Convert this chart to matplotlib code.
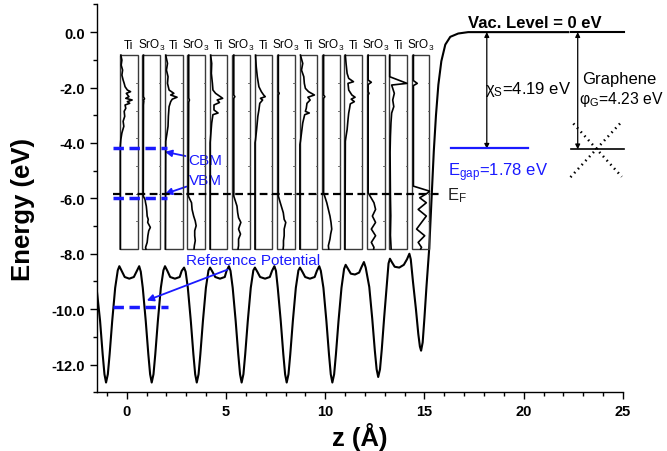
import matplotlib
matplotlib.use("Agg")
import matplotlib.pyplot as plt
from matplotlib.patches import Rectangle
from matplotlib.ticker import MultipleLocator

plt.rcParams['font.family'] = ['Liberation Sans', 'DejaVu Sans']
plt.rcParams['mathtext.fontset'] = 'custom'
plt.rcParams['mathtext.rm'] = 'Liberation Sans'
plt.rcParams['mathtext.it'] = 'Liberation Sans:italic'
plt.rcParams['mathtext.bf'] = 'Liberation Sans:bold'
plt.rcParams['axes.unicode_minus'] = False

# ---------------- data ----------------
# planar-averaged electrostatic potential (z in Angstrom, energy in eV)
pot_z = [-1.50, -1.34, -1.21, -1.12, -1.04, -0.95, -0.86, -0.73, -0.58, -0.45, -0.37, -0.25, -0.10, 0.13, 0.36, 0.51, 0.63, 0.71,
         0.81, 0.96, 1.09, 1.18, 1.26, 1.35, 1.44, 1.57, 1.72, 1.85, 1.93, 2.05, 2.19, 2.43, 2.67, 2.77, 2.89, 2.97,
         3.08, 3.23, 3.36, 3.45, 3.53, 3.62, 3.71, 3.84, 3.99, 4.12, 4.20, 4.32, 4.46, 4.70, 4.94, 5.03, 5.15, 5.23,
         5.34, 5.49, 5.62, 5.71, 5.79, 5.88, 5.97, 6.10, 6.25, 6.38, 6.46, 6.58, 6.72, 6.97, 7.21, 7.32, 7.44, 7.52,
         7.61, 7.76, 7.89, 7.98, 8.06, 8.15, 8.24, 8.37, 8.52, 8.65, 8.73, 8.85, 8.99, 9.23, 9.47, 9.58, 9.70, 9.78,
         9.91, 10.06, 10.19, 10.28, 10.36, 10.45, 10.54, 10.67, 10.82, 10.95, 11.03, 11.15, 11.29, 11.50, 11.71, 11.83, 11.95, 12.04,
         12.22, 12.37, 12.50, 12.59, 12.67, 12.76, 12.85, 12.97, 13.11, 13.19, 13.26, 13.37, 13.50, 13.73, 13.96, 14.12, 14.24, 14.31,
         14.42, 14.57, 14.69, 14.77, 14.83, 14.91, 15.00, 15.10, 15.24, 15.37, 15.47, 15.58, 15.70, 15.85, 16.05, 16.30, 16.70, 17.20, 22.25]
pot_e = [-9.35, -10.43, -11.63, -12.35, -12.65, -12.35, -11.63, -10.43, -9.23, -8.60, -8.45, -8.62, -8.84, -8.90, -8.84, -8.62, -8.45, -8.65,
         -9.23, -10.43, -11.63, -12.35, -12.65, -12.35, -11.63, -10.43, -9.23, -8.60, -8.45, -8.62, -8.84, -8.90, -8.84, -8.62, -8.50, -8.65,
         -9.23, -10.43, -11.63, -12.35, -12.65, -12.35, -11.63, -10.43, -9.23, -8.60, -8.50, -8.65, -8.84, -8.90, -8.84, -8.62, -8.45, -8.62,
         -9.23, -10.43, -11.63, -12.35, -12.65, -12.35, -11.63, -10.43, -9.23, -8.60, -8.50, -8.65, -8.84, -8.90, -8.84, -8.62, -8.45, -8.62,
         -9.23, -10.43, -11.63, -12.35, -12.65, -12.35, -11.63, -10.43, -9.23, -8.60, -8.50, -8.65, -8.84, -8.90, -8.84, -8.62, -8.45, -8.62,
         -9.23, -10.43, -11.63, -12.35, -12.65, -12.35, -11.63, -10.43, -9.23, -8.55, -8.40, -8.55, -8.72, -8.75, -8.68, -8.48, -8.30, -8.50,
         -9.20, -10.35, -11.50, -12.17, -12.45, -12.17, -11.45, -10.30, -9.05, -8.35, -8.18, -8.32, -8.47, -8.50, -8.40, -8.20, -8.00, -8.20,
         -9.00, -10.00, -10.90, -11.35, -11.50, -11.20, -10.30, -9.20, -7.80, -5.82, -4.30, -3.00, -1.90, -1.05, -0.45, -0.17, -0.05, 0.00, 0.00]

# layer-resolved PDOS panels: energy relative to E_F (eV), DOS as fraction of panel width
E_F = -5.83
panel_labels = ['Ti', 'SrO$_3$'] * 7
pdos_eps = [
    [5.0, 4.82, 4.64, 4.46, 4.28, 4.10, 3.98, 3.86, 3.74, 3.68, 3.62, 3.50, 3.44, 3.38, 3.32, 3.26, 3.20, 3.08, 2.97, 2.79, 2.61, 2.43, 2.19, 1.95, 1.71, -2.0],
    [5.0, 3.5, 3.42, 3.38, 3.34, 3.2, -0.09, -0.21, -0.33, -0.45, -0.63, -0.81, -0.93, -1.04, -1.16, -1.22, -1.34, -1.52, -1.76, -1.94, -2.0],
    [5.0, 4.7, 4.46, 4.22, 3.98, 3.74, 3.62, 3.56, 3.48, 3.41, 3.32, 3.14, 2.79, 2.43, 2.13, 1.89, -2.0],
    [5.0, 3.45, 3.38, 3.3, -0.09, -0.33, -0.57, -0.81, -0.99, -1.16, -1.34, -1.52, -1.70, -1.88, -2.0],
    [5.0, 4.70, 4.34, 3.98, 3.74, 3.62, 3.50, 3.44, 3.38, 3.29, 3.20, 3.02, 2.91, 2.85, 2.55, 2.07, 1.83, -2.0],
    [5.0, 3.56, 3.50, 3.44, -0.09, -0.45, -0.69, -0.87, -1.04, -1.16, -1.28, -1.46, -1.64, -1.88, -2.0],
    [5.0, 4.58, 4.22, 3.86, 3.68, 3.56, 3.50, 3.44, 3.38, 3.26, 3.02, 2.79, 2.31, 1.95, 1.83, -2.0],
    [5.0, 3.68, 3.62, 3.56, -0.09, -0.33, -0.69, -0.93, -1.04, -1.28, -1.52, -1.70, -1.88, -2.0],
    [5.0, 4.70, 4.46, 4.22, 3.98, 3.80, 3.68, 3.56, 3.48, 3.38, 3.26, 3.08, 2.97, 2.91, 2.85, 2.55, 2.19, 1.89, 1.77, -2.0],
    [5.0, 3.56, 3.50, 3.44, 0.03, -0.33, -0.57, -0.81, -1.04, -1.28, -1.46, -1.64, -1.88, -2.0],
    [5.0, 4.70, 4.34, 4.16, 4.04, 3.98, 3.74, 3.56, 3.48, 3.41, 3.32, 3.24, 3.08, 2.91, 2.67, 2.31, 2.07, 1.89, -2.0],
    [5.0, 4.10, 4.02, 3.94, 3.68, 3.62, 3.56, 0.03, -0.09, -0.33, -0.57, -0.81, -1.04, -1.28, -1.52, -1.76, -1.94, -2.0],
    [5.0, 4.22, 3.98, 3.92, 3.80, 3.62, 3.38, 3.14, 2.91, 2.55, 2.07, 1.5, -0.1, -0.8, -1.5, -2.0],
    [5.0, 4.08, 3.98, 3.90, 0.27, 0.09, 0.03, -0.15, -0.33, -0.57, -0.81, -1.04, -1.28, -1.52, -1.76, -1.94, -2.0],
]
pdos_val = [
    [0.05, 0.11, 0.07, 0.15, 0.11, 0.18, 0.24, 0.29, 0.42, 0.60, 0.36, 0.51, 0.33, 0.69, 0.42, 0.55, 0.29, 0.33, 0.24, 0.27, 0.18, 0.22, 0.11, 0.05, 0.02, 0.02],
    [0.06, 0.06, 0.12, 0.06, 0.08, 0.06, 0.05, 0.15, 0.18, 0.22, 0.25, 0.27, 0.33, 0.30, 0.40, 0.45, 0.36, 0.31, 0.27, 0.18, 0.20],
    [0.05, 0.15, 0.09, 0.18, 0.15, 0.24, 0.51, 0.33, 0.69, 0.42, 0.33, 0.24, 0.20, 0.18, 0.11, 0.05, 0.03],
    [0.08, 0.08, 0.12, 0.08, 0.06, 0.24, 0.27, 0.36, 0.45, 0.50, 0.42, 0.42, 0.45, 0.40, 0.38],
    [0.05, 0.11, 0.09, 0.15, 0.18, 0.33, 0.60, 0.73, 0.42, 0.55, 0.24, 0.24, 0.47, 0.18, 0.11, 0.05, 0.02, 0.02],
    [0.09, 0.09, 0.15, 0.09, 0.09, 0.27, 0.31, 0.36, 0.49, 0.42, 0.36, 0.47, 0.36, 0.36, 0.33],
    [0.05, 0.09, 0.15, 0.24, 0.38, 0.51, 0.60, 0.33, 0.45, 0.29, 0.24, 0.18, 0.11, 0.05, 0.02, 0.02],
    [0.07, 0.07, 0.12, 0.07, 0.07, 0.18, 0.35, 0.40, 0.49, 0.40, 0.40, 0.36, 0.36, 0.34],
    [0.05, 0.18, 0.11, 0.24, 0.27, 0.33, 0.51, 0.84, 0.47, 0.60, 0.42, 0.38, 0.33, 0.55, 0.29, 0.18, 0.11, 0.05, 0.02, 0.02],
    [0.09, 0.09, 0.16, 0.09, 0.09, 0.27, 0.36, 0.45, 0.51, 0.55, 0.49, 0.45, 0.36, 0.38],
    [0.05, 0.09, 0.15, 0.24, 0.51, 0.20, 0.24, 0.42, 0.60, 0.38, 0.56, 0.33, 0.29, 0.24, 0.20, 0.15, 0.09, 0.05, 0.03],
    [0.07, 0.07, 0.25, 0.07, 0.07, 0.12, 0.07, 0.07, 0.18, 0.40, 0.49, 0.31, 0.49, 0.25, 0.49, 0.25, 0.40, 0.38],
    [0.02, 0.02, 1.0, 0.13, 0.19, 0.28, 0.19, 0.25, 0.13, 0.09, 0.06, 0.04, 0.06, 0.08, 0.06, 0.10],
    [0.09, 0.09, 0.31, 0.09, 0.09, 1.0, 0.91, 0.45, 0.82, 0.36, 0.82, 0.55, 0.27, 0.73, 0.36, 0.55, 0.50],
]

# band-alignment values (eV)
CBM = -4.18
VBM = -6.00
REF_POT = -9.91
CHI_S = 4.19
PHI_G = 4.23
E_GAP = 1.78

ytick_vals = [0, -2, -4, -6, -8, -10, -12]
ytick_labels = ['0.0', '-2.0', '-4.0', '-6.0', '-8.0', '-10.0', '-12.0']
xtick_vals = [0, 5, 10, 15, 20, 25]
xtick_labels = ['0', '5', '10', '15', '20', '25']

# ---------------- figure ----------------
fig = plt.figure(figsize=(6.67, 4.52), dpi=100)
ax = fig.add_axes([0.1453, 0.130, 0.7887, 0.858])
ax.set_xlim(-1.5, 25)
ax.set_ylim(-13, 1)

for s in ['top', 'right']:
    ax.spines[s].set_visible(False)
for s in ['left', 'bottom']:
    ax.spines[s].set_linewidth(1.0)

ax.set_yticks(ytick_vals)
ax.set_yticklabels(ytick_labels, fontweight='bold', fontsize=10.5)
ax.set_xticks(xtick_vals)
ax.set_xticklabels(xtick_labels, fontweight='bold', fontsize=10.5)
ax.xaxis.set_minor_locator(MultipleLocator(1))
ax.yaxis.set_minor_locator(MultipleLocator(1))
ax.tick_params(which='major', direction='out', length=5, width=1)
ax.tick_params(which='minor', direction='out', length=3, width=1)

ax.set_ylabel('Energy (eV)', fontsize=18.5, fontweight='bold', va='center')
ax.yaxis.set_label_coords(-0.140, 0.475)
ax.set_xlabel('z (Å)', fontsize=18.5, fontweight='bold', va='center')
ax.xaxis.set_label_coords(0.5, -0.113)

# potential
ax.plot(pot_z, pot_e, color='black', lw=1.5, zorder=3)

# PDOS panels
p_left0, p_pitch, p_w = -0.34, 1.131, 0.89
e_lo, e_hi = E_F - 2.0, E_F + 5.0
for i in range(14):
    zl = p_left0 + i * p_pitch
    ax.add_patch(Rectangle((zl, e_lo), p_w, e_hi - e_lo, fill=False,
                           edgecolor='#3a3a3a', lw=1.0, zorder=4))
    for k in range(-1, 5):
        ax.plot([zl + p_w - 0.07, zl + p_w], [E_F + k, E_F + k], color='#555555', lw=0.6, zorder=4)
    xs = [zl + min(v, 1.0) * p_w for v in pdos_val[i]]
    ys = [E_F + e for e in pdos_eps[i]]
    ax.plot(xs, ys, color='black', lw=1.2, zorder=5)
    ax.text(zl + p_w / 2, -0.45, panel_labels[i], ha='center', va='center', fontsize=8.5)

blue = '#1a1aff'
# band edges (blue dashes)
ax.plot([-0.68, 2.05], [CBM, CBM], color=blue, lw=2.5, ls=(0, (3, 1.6)), zorder=6)
ax.plot([-0.68, 2.05], [VBM, VBM], color=blue, lw=2.5, ls=(0, (3, 1.6)), zorder=6)
ax.plot([-0.68, 2.10], [REF_POT, REF_POT], color=blue, lw=2.5, ls=(0, (3, 1.6)), zorder=6)
# Fermi level
ax.plot([-0.68, 15.95], [E_F, E_F], color='black', lw=1.6, ls=(0, (3.5, 2)), zorder=6)
ax.text(16.15, E_F - 0.05, 'E$_\\mathrm{F}$', fontsize=12, ha='left', va='center', color='#222222')

ax.annotate('CBM', xy=(1.93, -4.32), xytext=(3.1, -4.62), color=blue, fontsize=11,
            ha='left', va='center',
            arrowprops=dict(arrowstyle='-|>', color=blue, lw=1.3, mutation_scale=10, shrinkA=0, shrinkB=0))
ax.annotate('VBM', xy=(1.93, -5.84), xytext=(3.15, -5.34), color=blue, fontsize=11,
            ha='left', va='center',
            arrowprops=dict(arrowstyle='-|>', color=blue, lw=1.3, mutation_scale=10, shrinkA=0, shrinkB=0))
ax.annotate('Reference Potential', xy=(1.01, -9.69), xytext=(2.99, -8.22), color=blue, fontsize=11,
            ha='left', va='center',
            arrowprops=dict(arrowstyle='-|>', color=blue, lw=1.3, mutation_scale=10, shrinkA=0, shrinkB=0))

# vacuum / band diagram
ax.plot([16.32, 20.23], [CBM - 0.02, CBM - 0.02], color=blue, lw=1.6, zorder=6)
ax.text(16.2, -5.04, 'E$_\\mathrm{gap}$=%.2f eV' % E_GAP, color=blue, fontsize=12, ha='left', va='center')
ax.annotate('', xy=(18.14, -CHI_S - 0.02), xytext=(18.14, 0),
            arrowprops=dict(arrowstyle='<|-|>', color='black', lw=0.9, mutation_scale=7, shrinkA=0, shrinkB=0))
ax.text(18.05, -2.04, 'χ$_\\mathrm{S}$=%.2f eV' % CHI_S, fontsize=12, ha='left', va='center')
ax.text(20.57, 0.36, 'Vac. Level = 0 eV', fontsize=12, fontweight='bold', ha='center', va='center')

ax.plot([22.4, 25.05], [0, 0], color='black', lw=1.5, clip_on=False)
ax.plot([22.4, 25.05], [-PHI_G, -PHI_G], color='black', lw=1.2, clip_on=False)
ax.annotate('', xy=(22.72, -PHI_G), xytext=(22.72, 0),
            arrowprops=dict(arrowstyle='<|-|>', color='black', lw=0.9, mutation_scale=7, shrinkA=0, shrinkB=0))
ax.text(22.92, -1.68, 'Graphene', fontsize=12, ha='left', va='center')
ax.text(22.78, -2.4, 'φ$_\\mathrm{G}$=%.2f eV' % PHI_G, fontsize=11.3, ha='left', va='center')
ax.plot([22.5, 24.94], [-3.30, -5.22], color='black', lw=1.8, ls=(0, (0.6, 1.6)), clip_on=False)
ax.plot([24.85, 22.3], [-3.30, -5.28], color='black', lw=1.8, ls=(0, (0.6, 1.6)), clip_on=False)

fig.savefig('out.png', dpi=100)
